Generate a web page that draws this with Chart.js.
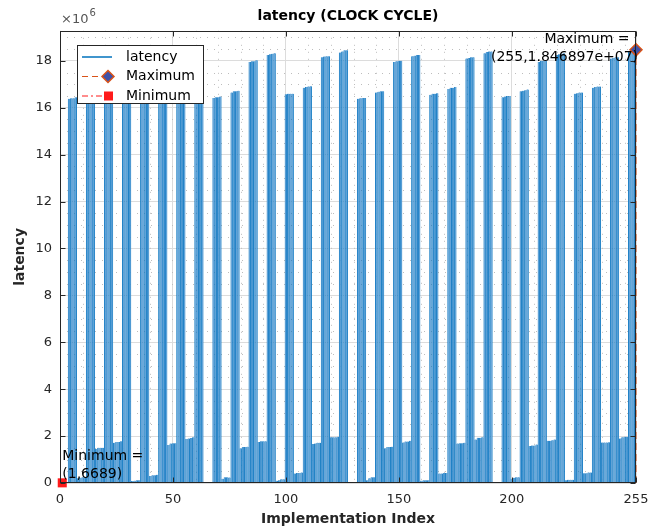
<!DOCTYPE html>
<html>
<head>
<meta charset="utf-8">
<script src="https://cdn.jsdelivr.net/npm/chart.js@4.4.1/dist/chart.umd.min.js"></script>
<style>
  html, body { margin: 0; padding: 0; background: #fff; }
  canvas { display: block; }
</style>
</head>
<body>
<canvas id="latency-chart" width="649" height="531"></canvas>
<script>
// latency of each implementation, in millions of clock cycles
// one row = 8 implementations: 4 low ones then 4 high ones
const latencyRows = [
  [0.012, 0.006689, 0.015, 0.020, 16.38, 16.40, 16.40, 16.45],
  [0.20, 0.22, 0.25, 0.25, 16.60, 16.65, 16.65, 16.68],
  [1.45, 1.50, 1.50, 1.50, 17.90, 17.95, 17.95, 17.98],
  [1.72, 1.75, 1.75, 1.78, 18.15, 18.20, 18.20, 18.22],
  [0.08, 0.10, 0.12, 0.12, 16.55, 16.60, 16.60, 16.60],
  [0.30, 0.33, 0.33, 0.35, 16.80, 16.82, 16.85, 16.85],
  [1.62, 1.68, 1.70, 1.70, 18.05, 18.10, 18.10, 18.12],
  [1.88, 1.90, 1.92, 1.95, 18.30, 18.35, 18.35, 18.38],
  [0.010, 0.012, 0.015, 0.015, 16.42, 16.45, 16.45, 16.48],
  [0.18, 0.24, 0.24, 0.23, 16.65, 16.70, 16.70, 16.72],
  [1.48, 1.54, 1.54, 1.55, 17.95, 17.98, 17.98, 18.02],
  [1.75, 1.78, 1.78, 1.78, 18.25, 18.28, 18.30, 18.32],
  [0.10, 0.12, 0.16, 0.16, 16.58, 16.60, 16.60, 16.60],
  [0.40, 0.43, 0.43, 0.45, 16.85, 16.88, 16.90, 16.92],
  [1.66, 1.68, 1.72, 1.72, 18.15, 18.18, 18.20, 18.20],
  [1.95, 1.95, 1.95, 1.97, 18.35, 18.40, 18.45, 18.45],
  [0.010, 0.010, 0.012, 0.012, 16.38, 16.40, 16.42, 16.42],
  [0.12, 0.20, 0.25, 0.25, 16.65, 16.68, 16.70, 16.70],
  [1.48, 1.53, 1.53, 1.55, 17.95, 17.98, 18.00, 18.00],
  [1.73, 1.77, 1.77, 1.80, 18.20, 18.22, 18.25, 18.25],
  [0.10, 0.12, 0.12, 0.12, 16.55, 16.60, 16.60, 16.62],
  [0.40, 0.40, 0.43, 0.43, 16.80, 16.85, 16.85, 16.88],
  [1.68, 1.70, 1.70, 1.72, 18.10, 18.12, 18.15, 18.15],
  [1.85, 1.93, 1.93, 1.95, 18.32, 18.38, 18.40, 18.40],
  [0.012, 0.012, 0.015, 0.015, 16.45, 16.48, 16.50, 16.50],
  [0.18, 0.22, 0.25, 0.25, 16.70, 16.72, 16.75, 16.78],
  [1.58, 1.60, 1.60, 1.64, 17.95, 18.00, 18.00, 18.00],
  [1.80, 1.80, 1.82, 1.85, 18.25, 18.28, 18.30, 18.32],
  [0.12, 0.14, 0.14, 0.14, 16.60, 16.62, 16.65, 16.65],
  [0.42, 0.42, 0.45, 0.45, 16.85, 16.88, 16.90, 16.90],
  [1.73, 1.73, 1.73, 1.74, 18.10, 18.12, 18.15, 18.15],
  [1.90, 1.95, 1.97, 1.97, 18.40, 18.42, 18.44, 18.46897]
];
const xTicks = [0, 50, 100, 150, 200, 255];
const yTicks = [0, 2, 4, 6, 8, 10, 12, 14, 16, 18];
const X_MAX = 255;
const Y_MAX = 19.28e6;

const latency = latencyRows.flat().map(v => Math.round(v * 1e6));
const latencyPoints = latency.map((v, i) => ({ x: i, y: v }));

// max / min like MATLAB max() and min()
let maxIdx = 0, minIdx = 0;
latency.forEach((v, i) => {
    if (v > latency[maxIdx]) maxIdx = i;
    if (v < latency[minIdx]) minIdx = i;
});

const BLUE = '#0072BD';
const BAR_FILL = '#6fa9dc';
const ORANGE = '#D95319';
const MARKER_BLUE = '#3F51A8';
const RED = '#FF1A1A';
const AXIS = '#262626';
const FONT = 'DejaVu Sans';

function formatMax(v) {
    return v.toExponential(6).replace(/e\+(\d)$/, 'e+0$1');
}

function drawDiamond(ctx, x, y, r) {
    ctx.beginPath();
    ctx.moveTo(x, y - r);
    ctx.lineTo(x + r, y);
    ctx.lineTo(x, y + r);
    ctx.lineTo(x - r, y);
    ctx.closePath();
    ctx.fillStyle = MARKER_BLUE;
    ctx.fill();
    ctx.strokeStyle = ORANGE;
    ctx.lineWidth = 1.5;
    ctx.stroke();
}

const matlabLook = {
    id: 'matlabLook',
    beforeDatasetsDraw(chart) {
        const { ctx, chartArea: a, scales: { x, y } } = chart;
        ctx.save();
        ctx.strokeStyle = '#bdbdbd';
        ctx.lineWidth = 1;
        ctx.setLineDash([1, 6]);
        ctx.beginPath();
        for (let v = 10; v < X_MAX; v += 10) {
            if (xTicks.includes(v)) continue;
            const px = Math.round(x.getPixelForValue(v)) + 0.5;
            ctx.moveTo(px, a.top);
            ctx.lineTo(px, a.bottom);
        }
        for (let v = 0.5e6; v < Y_MAX; v += 0.5e6) {
            if (yTicks.includes(v / 1e6)) continue;
            const py = Math.round(y.getPixelForValue(v)) + 0.5;
            ctx.moveTo(a.left, py);
            ctx.lineTo(a.right, py);
        }
        ctx.stroke();
        ctx.restore();
    },
    afterDatasetsDraw(chart) {
        const { ctx, chartArea: a, scales: { x, y } } = chart;
        ctx.save();

        // box + inward ticks
        ctx.strokeStyle = AXIS;
        ctx.lineWidth = 1;
        ctx.setLineDash([]);
        const L = Math.round(a.left) + 0.5, R = Math.round(a.right) - 0.5;
        const T = Math.round(a.top) + 0.5, B = Math.round(a.bottom) - 0.5;
        ctx.strokeRect(L, T, R - L, B - T);
        ctx.beginPath();
        for (const v of xTicks) {
            const px = Math.round(x.getPixelForValue(v)) + 0.5;
            ctx.moveTo(px, B); ctx.lineTo(px, B - 5);
            ctx.moveTo(px, T); ctx.lineTo(px, T + 5);
        }
        for (const v of yTicks) {
            const py = Math.round(y.getPixelForValue(v * 1e6)) + 0.5;
            ctx.moveTo(L, py); ctx.lineTo(L + 5, py);
            ctx.moveTo(R, py); ctx.lineTo(R - 5, py);
        }
        ctx.stroke();

        // exponent label
        ctx.fillStyle = '#555';
        ctx.textBaseline = 'alphabetic';
        ctx.textAlign = 'left';
        ctx.font = `13px "${FONT}"`;
        ctx.fillText('\u00d710', a.left + 1, 23);
        const w = ctx.measureText('\u00d710').width;
        ctx.font = `10px "${FONT}"`;
        ctx.fillText('6', a.left + 1 + w + 1, 16);

        // data tips
        ctx.fillStyle = '#000';
        ctx.font = `14px "${FONT}"`;
        ctx.textBaseline = 'middle';
        const mx = x.getPixelForValue(maxIdx);
        const my = y.getPixelForValue(latency[maxIdx]);
        ctx.textAlign = 'right';
        ctx.fillText('Maximum = ', mx - 2, my - 10);
        ctx.fillText(`(${maxIdx},${formatMax(latency[maxIdx])})`, mx + 2, my + 8);
        const nx = x.getPixelForValue(minIdx);
        const ny = y.getPixelForValue(latency[minIdx]);
        ctx.textAlign = 'left';
        ctx.fillText('Minimum =', nx, ny - 26);
        ctx.fillText(`(${minIdx},${latency[minIdx]})`, nx, ny - 8);

        // legend
        const lx = 77, ly = 45, lw = 126, lh = 58;
        ctx.fillStyle = '#fff';
        ctx.fillRect(lx, ly, lw, lh);
        ctx.strokeStyle = AXIS;
        ctx.lineWidth = 1;
        ctx.strokeRect(lx + 0.5, ly + 0.5, lw, lh);
        const rows = [57, 76.5, 96];
        ctx.lineWidth = 1.5;
        ctx.strokeStyle = BLUE;
        ctx.beginPath(); ctx.moveTo(82, rows[0]); ctx.lineTo(112, rows[0]); ctx.stroke();
        ctx.strokeStyle = ORANGE;
        ctx.lineWidth = 1;
        ctx.setLineDash([6, 4]);
        ctx.beginPath(); ctx.moveTo(82, rows[1]); ctx.lineTo(104, rows[1]); ctx.stroke();
        ctx.strokeStyle = RED;
        ctx.setLineDash([6, 3, 2, 3]);
        ctx.beginPath(); ctx.moveTo(82, rows[2]); ctx.lineTo(104, rows[2]); ctx.stroke();
        ctx.setLineDash([]);
        drawDiamond(ctx, 108, rows[1], 6);
        ctx.fillStyle = RED;
        ctx.fillRect(104, rows[2] - 4.5, 9, 9);
        ctx.fillStyle = '#000';
        ctx.font = `14px "${FONT}"`;
        ctx.textAlign = 'left';
        ctx.fillText('latency', 126, rows[0]);
        ctx.fillText('Maximum', 126, rows[1]);
        ctx.fillText('Minimum', 126, rows[2]);

        ctx.restore();
    }
};

new Chart(document.getElementById('latency-chart'), {
    type: 'bar',
    data: {
        datasets: [
            {
                type: 'line',
                label: 'Maximum',
                data: [{ x: maxIdx, y: 0 }, { x: maxIdx, y: latency[maxIdx] }],
                borderColor: ORANGE,
                borderWidth: 1,
                borderDash: [7, 4],
                pointRadius: [0, 6],
                pointStyle: 'rectRot',
                pointBackgroundColor: MARKER_BLUE,
                pointBorderColor: ORANGE,
                pointBorderWidth: 1.5,
                clip: false,
                order: 1
            },
            {
                type: 'line',
                label: 'Minimum',
                data: [{ x: minIdx, y: 0 }, { x: minIdx, y: latency[minIdx] }],
                borderColor: RED,
                borderWidth: 1,
                borderDash: [6, 3, 2, 3],
                pointRadius: [0, 6.4],
                pointStyle: 'rect',
                pointBackgroundColor: RED,
                pointBorderColor: RED,
                pointBorderWidth: 0,
                clip: false,
                order: 2
            },
            {
                label: 'latency',
                data: latencyPoints,
                backgroundColor: BAR_FILL,
                borderColor: BLUE,
                borderWidth: { left: 0.7, right: 0.7, top: 0, bottom: 0 },
                borderSkipped: false,
                barThickness: 1.8,
                order: 3
            }
        ]
    },
    options: {
        responsive: false,
        animation: false,
        layout: { padding: { left: 0, right: 13, top: 0, bottom: 0 } },
        plugins: {
            legend: { display: false },
            tooltip: { enabled: false },
            title: {
                display: true,
                text: 'latency (CLOCK CYCLE)',
                fullSize: false,
                color: '#000',
                font: { family: FONT, size: 14, weight: 'bold', lineHeight: 1.2 },
                padding: { top: 8, bottom: 6 }
            }
        },
        scales: {
            x: {
                type: 'linear',
                min: 0,
                max: X_MAX,
                offset: false,
                afterBuildTicks: s => { s.ticks = xTicks.map(v => ({ value: v })); },
                afterFit: s => { s.height = 48; s.paddingLeft = 0; s.paddingRight = 0; },
                grid: { color: '#dcdcdc', drawTicks: false, offset: false },
                border: { display: false },
                ticks: {
                    color: AXIS,
                    font: { family: FONT, size: 13 },
                    padding: 9,
                    maxRotation: 0
                },
                title: {
                    display: true,
                    text: 'Implementation Index',
                    color: AXIS,
                    font: { family: FONT, size: 14, weight: 'bold' },
                    padding: { top: 0, bottom: 3 }
                }
            },
            y: {
                min: 0,
                max: Y_MAX,
                afterBuildTicks: s => { s.ticks = yTicks.map(v => ({ value: v * 1e6 })); },
                afterFit: s => { s.width = 60; s.paddingTop = 0; s.paddingBottom = 0; },
                grid: { color: '#dcdcdc', drawTicks: false },
                border: { display: false },
                ticks: {
                    color: AXIS,
                    font: { family: FONT, size: 13 },
                    padding: 8,
                    callback: v => String(v / 1e6)
                },
                title: {
                    display: true,
                    text: 'latency',
                    color: AXIS,
                    font: { family: FONT, size: 14, weight: 'bold' },
                    padding: { top: 12, bottom: 0 }
                }
            }
        }
    },
    plugins: [matlabLook]
});
</script>
</body>
</html>
